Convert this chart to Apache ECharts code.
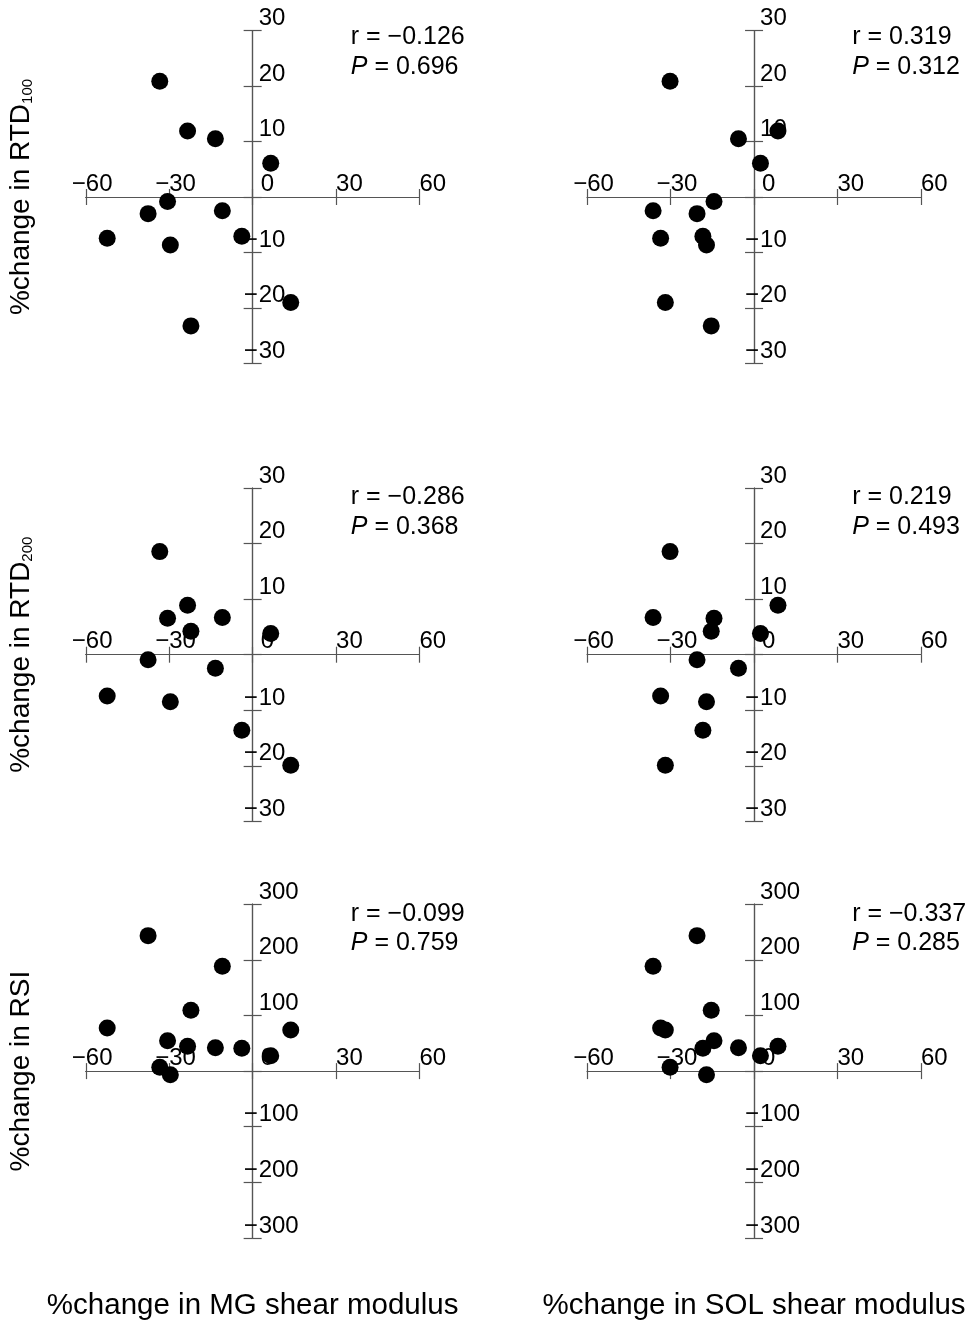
<!DOCTYPE html>
<html>
<head>
<meta charset="utf-8">
<title>%change in shear modulus vs RTD / RSI</title>
<script src="https://cdn.jsdelivr.net/npm/echarts@6/dist/echarts.min.js"></script>
<style>
  html, body { margin: 0; padding: 0; background: #fff; }
  #chart { width: 975px; height: 1328px; }
</style>
</head>
<body>
<div id="chart"></div>
<script>
// per-subject % changes (12 subjects)
var mgShear  = [-33.4, -23.4, -13.4, 6.5, -30.6, -37.6, -10.9, -52.3, -29.6, -3.9, 13.7, -22.2];
var solShear = [-30.2, 8.6, -5.6, 2.3, -14.4, -20.5, -36.3, -33.6, -17.1, -18.4, -31.9, -15.4];
var rtd100   = [20.9, 11.9, 10.5, 6.1, -0.8, -3.0, -2.5, -7.45, -8.65, -7.1, -19.05, -23.25];
var rtd200   = [18.55, 8.9, -2.45, 3.8, 6.55, -0.9, 6.7, -7.45, -8.45, -13.6, -19.9, 4.2];
var rsi      = [7, 44.5, 42, 27.5, 54.5, 243.5, 188.5, 77.5, -6.5, 41, 74, 109.5];

// axis ranges: [min, max, interval]
var shearRange = [-60, 60, 30];
var rtdRange   = [-30, 30, 10];
var rsiRange   = [-300, 300, 100];

// correlation annotations, panel order: row by row, MG then SOL
var rValues = ['\u22120.126', '0.319', '\u22120.286', '0.219', '\u22120.099', '\u22120.337'];
var pValues = ['0.696', '0.312', '0.368', '0.493', '0.759', '0.285'];

var yTitles = ['{a|%change in RTD}{s|100}', '{a|%change in RTD}{s|200}', '{a|%change in RSI}'];
var xTitles = ['%change in MG shear modulus', '%change in SOL shear modulus'];

var FONT = '"Liberation Sans", Arial, Helvetica, sans-serif';
var AXIS_COLOR = '#555';

// layout of the six panels
var colLeft = [85.8, 587.2];
var colWidth = 333.7;
var rowTop = [30.7, 488, 904.2];
var rowHeight = [332.6, 333.4, 333.8];

var panels = [
    {x: mgShear,  y: rtd100, yr: rtdRange},
    {x: solShear, y: rtd100, yr: rtdRange},
    {x: mgShear,  y: rtd200, yr: rtdRange},
    {x: solShear, y: rtd200, yr: rtdRange},
    {x: mgShear,  y: rsi,    yr: rsiRange},
    {x: solShear, y: rsi,    yr: rsiRange}
];

function zip(a, b) {
    var out = [];
    for (var i = 0; i < a.length; i++) {
        out.push([a[i], b[i]]);
    }
    return out;
}

//digits only, the minus sign is drawn by the twin axis so it hangs left of the tick
function digits(v) {
    if (v === 0) return '{z|0}';
    return String(Math.abs(v));
}
function digitsNoZero(v) {
    if (v === 0) return '';
    return String(Math.abs(v));
}
function minusOnly(v) {
    return v < 0 ? '\u2212' : '';
}

var labelBase = {
    color: '#000',
    fontSize: 24,
    fontFamily: FONT,
    lineHeight: 24,
    inside: true,
    verticalAlign: 'bottom'
};

var grids = [], xAxes = [], yAxes = [], series = [], graphics = [];

function hiddenAxis(range) {
    return {type: 'value', show: false, min: range[0], max: range[1], splitLine: {show: false}};
}

//one grid + its pair of axes, returns the shared index
function addGrid(rect, xa, ya) {
    var gi = grids.length;
    grids.push(Object.assign({outerBoundsMode: 'none', containLabel: false}, rect));
    xa.gridIndex = gi;
    ya.gridIndex = gi;
    xAxes.push(xa);
    yAxes.push(ya);
    return gi;
}

for (var i = 0; i < panels.length; i++) {
    var row = Math.floor(i / 2), col = i % 2;
    var p = panels[i];
    var L = colLeft[col], T = rowTop[row], W = colWidth, H = rowHeight[row];

    // data grid, axes hidden
    var dg = addGrid({left: L, top: T, width: W, height: H},
        hiddenAxis(shearRange), hiddenAxis(p.yr));

    series.push({
        type: 'scatter',
        xAxisIndex: dg,
        yAxisIndex: dg,
        data: zip(p.x, p.y),
        symbol: 'circle',
        symbolSize: 17,
        itemStyle: {color: '#000', opacity: 1},
        silent: true,
        z: 5
    });

    // visible axes: grid edges sit on the zero lines so the axes cross at the origin.
    // k = 0: outward ticks + digits, k = 1: inward ticks + hanging minus signs
    for (var k = 0; k < 2; k++) {
        var xa = {
            type: 'value',
            position: 'bottom',
            min: shearRange[0],
            max: shearRange[1],
            interval: shearRange[2],
            splitLine: {show: false},
            axisLine: {show: true, onZero: false, lineStyle: {color: AXIS_COLOR, width: 1.2}},
            axisTick: {show: true, inside: k === 1, length: 8, lineStyle: {color: AXIS_COLOR, width: 1.2}},
            axisLabel: Object.assign({}, labelBase, {
                align: k === 0 ? 'left' : 'right',
                margin: 1,
                formatter: k === 0 ? digits : minusOnly,
                rich: {z: {fontSize: 24, fontFamily: FONT, color: '#000', lineHeight: 24, padding: [0, 0, 0, 8]}}
            })
        };
        if (k === 0 && row === 2) {
            xa.name = xTitles[col];
            xa.nameLocation = 'middle';
            xa.nameGap = 220;
            xa.nameMoveOverlap = false;
            xa.nameTextStyle = {fontSize: 29.5, fontFamily: FONT, color: '#000'};
        }
        addGrid({left: L, top: T, width: W, height: H / 2}, xa, hiddenAxis(p.yr));

        var ya = {
            type: 'value',
            position: 'left',
            min: p.yr[0],
            max: p.yr[1],
            interval: p.yr[2],
            splitLine: {show: false},
            axisLine: {show: true, onZero: false, lineStyle: {color: AXIS_COLOR, width: 1.2}},
            axisTick: {show: true, inside: k === 1, length: 9, lineStyle: {color: AXIS_COLOR, width: 1.2}},
            axisLabel: Object.assign({}, labelBase, {
                align: k === 0 ? 'left' : 'right',
                margin: k === 0 ? 6 : 5,
                formatter: k === 0 ? digitsNoZero : minusOnly
            })
        };
        if (k === 0 && col === 0) {
            ya.name = yTitles[row];
            ya.nameLocation = 'middle';
            ya.nameGap = 217;
            ya.nameMoveOverlap = false;
            ya.nameTextStyle = {
                color: '#000',
                rich: {
                    a: {fontSize: 28, fontFamily: FONT, color: '#000'},
                    s: {fontSize: 15, fontFamily: FONT, color: '#000', verticalAlign: 'bottom'}
                }
            };
        }
        addGrid({left: L + W / 2, top: T, width: W / 2, height: H}, hiddenAxis([0, shearRange[1]]), ya);
    }

    // r / P annotation
    var tx = L + 265;
    var ty = T + (row === 0 ? 6.5 : 9.5);
    graphics.push({
        type: 'text',
        x: tx,
        y: ty,
        style: {
            text: 'r = ' + rValues[i],
            fill: '#000',
            fontSize: 25,
            fontFamily: FONT,
            textAlign: 'left', align: 'left',
            textVerticalAlign: 'middle', verticalAlign: 'middle'
        }
    });
    graphics.push({
        type: 'text',
        x: tx,
        y: ty + 29.5,
        style: {
            text: '{i|P} = ' + pValues[i],
            fill: '#000',
            fontSize: 25,
            fontFamily: FONT,
            textAlign: 'left', align: 'left',
            textVerticalAlign: 'middle', verticalAlign: 'middle',
            rich: {i: {fontStyle: 'italic', fontSize: 25, fontFamily: FONT, fill: '#000'}}
        }
    });
}

var chart = echarts.init(document.getElementById('chart'));
chart.setOption({
    animation: false,
    backgroundColor: '#fff',
    grid: grids,
    xAxis: xAxes,
    yAxis: yAxes,
    series: series,
    graphic: graphics
});
</script>
</body>
</html>
